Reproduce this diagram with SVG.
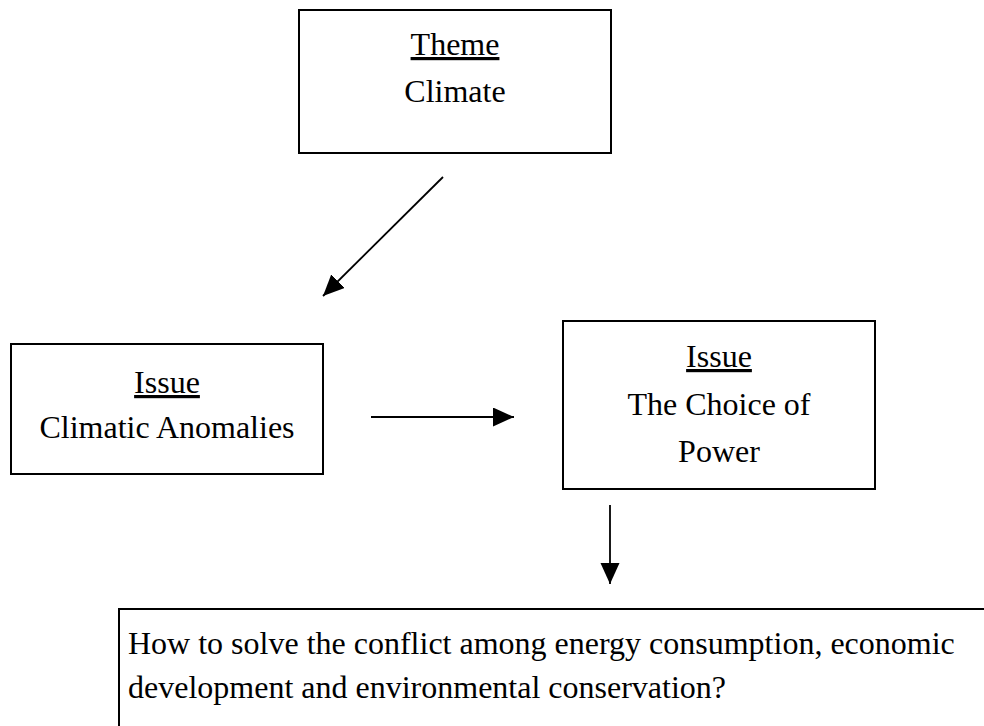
<svg xmlns="http://www.w3.org/2000/svg" width="984" height="726" viewBox="0 0 984 726">
<style>
.box{fill:#fff;stroke:#000;stroke-width:2}
.t{font-family:"Liberation Serif","Times New Roman",serif;font-size:32px;fill:#000}
.c{text-anchor:middle}
.u{text-decoration:underline}
.conn{stroke:#000;stroke-width:1.8;fill:none}
</style>
<defs>
<marker id="ah" markerUnits="userSpaceOnUse" markerWidth="22" markerHeight="20" refX="21" refY="9.5" orient="auto">
<path d="M0,0 L21,9.5 L0,19 Z" fill="#000"/>
</marker>
</defs>
<rect width="984" height="726" fill="#fff"/>
<g id="theme">
<rect class="box" x="299" y="10" width="312" height="143"/>
<text class="t c u" x="455" y="55">Theme</text>
<text class="t c" x="455" y="102">Climate</text>
</g>
<g id="issue1">
<rect class="box" x="11" y="344" width="312" height="130"/>
<text class="t c u" x="167" y="393">Issue</text>
<text class="t c" x="167" y="438">Climatic Anomalies</text>
</g>
<g id="issue2">
<rect class="box" x="563" y="321" width="312" height="168"/>
<text class="t c u" x="719" y="367">Issue</text>
<text class="t c" x="719" y="415">The Choice of</text>
<text class="t c" x="719" y="462">Power</text>
</g>
<g id="question">
<rect class="box" x="119" y="609" width="880" height="130"/>
<text class="t" x="128" y="654">How to solve the conflict among energy consumption, economic</text>
<text class="t" x="128" y="698">development and environmental conservation?</text>
</g>
<g id="connectors">
<line class="conn" x1="443" y1="177" x2="323" y2="296" marker-end="url(#ah)"/>
<line class="conn" x1="371" y1="417" x2="514" y2="417" marker-end="url(#ah)"/>
<line class="conn" x1="610" y1="505" x2="610" y2="584" marker-end="url(#ah)"/>
</g>
</svg>
